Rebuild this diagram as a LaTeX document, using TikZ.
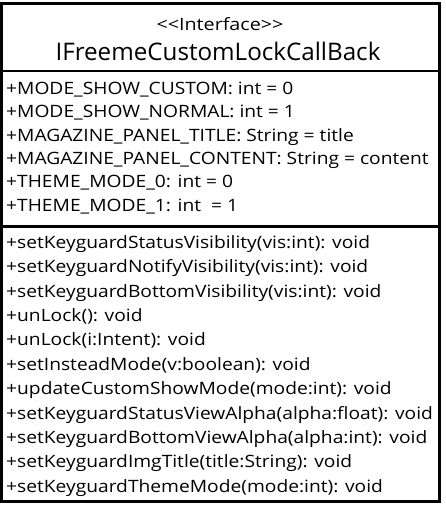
\documentclass[tikz,border=0pt]{standalone}
\usepackage{fontspec}
\setmainfont{Open Sans}
\newfontfamily\memberfont[FakeStretch=1.13]{Open Sans}
\newfontfamily\sterfont[FakeStretch=1.16]{Open Sans}
\begin{document}
\begin{tikzpicture}[x=1pt,y=-1pt,
  member/.style={anchor=base west,inner sep=0pt,font=\memberfont\fontsize{17}{18}\selectfont},
  boxline/.style={line width=2.7pt,draw=black}]
\useasboundingbox[fill=white] (0,0) rectangle (445,509);
\draw[boxline] (1.3,3.7) rectangle (439.5,501.7);
\draw[boxline] (1.3,71) -- (439.5,71);
\draw[boxline] (1.3,226.3) -- (439.5,226.3);
\node[anchor=base,inner sep=0pt,font=\sterfont\fontsize{17}{18}\selectfont] (st) at (220,30) {<{}<Interface>{}>};
\node[anchor=base,inner sep=0pt,font=\fontsize{24.2}{28}\selectfont] (nm) at (218,60) {IFreemeCustomLockCallBack};
\foreach \t [count=\i from 0] in {
  +MODE\_SHOW\_CUSTOM: int = 0,
  +MODE\_SHOW\_NORMAL: int = 1,
  +MAGAZINE\_PANEL\_TITLE: String = title,
  +MAGAZINE\_PANEL\_CONTENT: String = content,
  +THEME\_MODE\_0: int = 0,
  +THEME\_MODE\_1: int\ \ = 1}
  \node[member] (a\i) at (6,94.3+23.35*\i) {\t};
\foreach \t [count=\i from 0] in {
  +setKeyguardStatusVisibility(vis:int): void,
  +setKeyguardNotifyVisibility(vis:int): void,
  +setKeyguardBottomVisibility(vis:int): void,
  +unLock(): void,
  +unLock(i:Intent): void,
  +setInsteadMode(v:boolean): void,
  +updateCustomShowMode(mode:int): void,
  +setKeyguardStatusViewAlpha(alpha:float): void,
  +setKeyguardBottomViewAlpha(alpha:int): void,
  +setKeyguardImgTitle(title:String): void,
  +setKeyguardThemeMode(mode:int): void}
  \node[member] (m\i) at (6,248.3+24.4*\i) {\t};
\end{tikzpicture}
\end{document}
